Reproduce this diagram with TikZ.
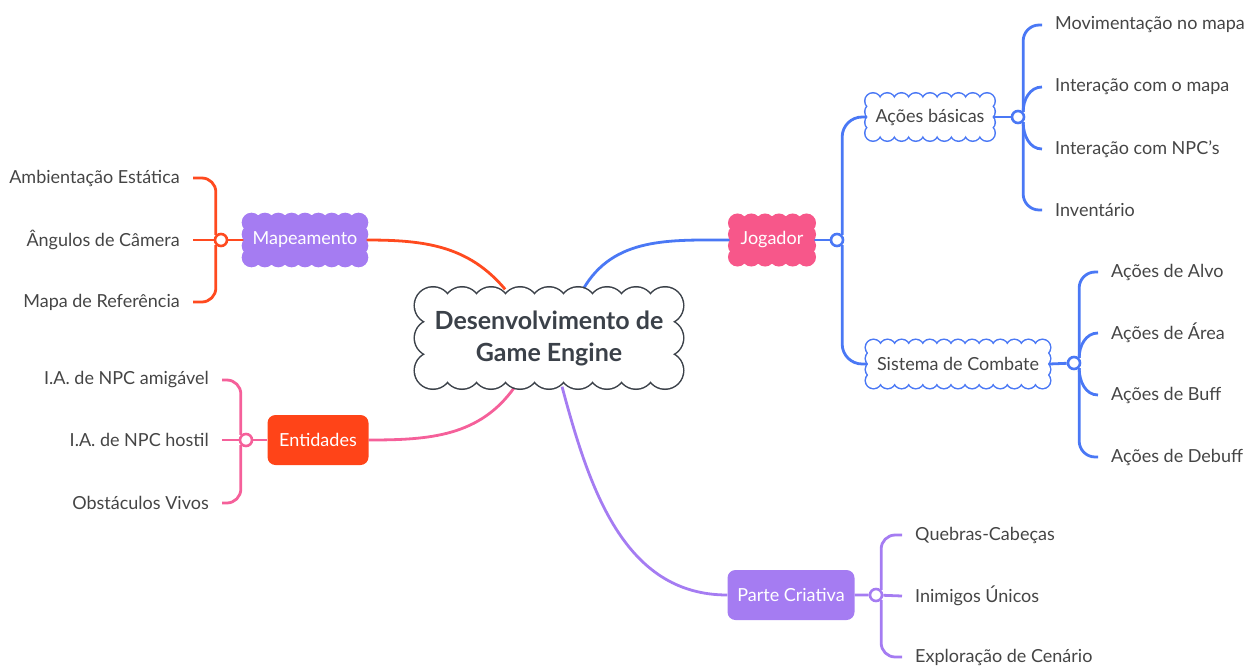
\documentclass[tikz,border=0pt]{standalone}
\usepackage{fontspec}
\setmainfont{Lato}

\definecolor{mapred}{HTML}{FF4A1F}
\definecolor{entred}{HTML}{FF4418}
\definecolor{entpink}{HTML}{F5609A}
\definecolor{jogpink}{HTML}{F7578A}
\definecolor{jogblue}{HTML}{4A78F5}
\definecolor{crpurple}{HTML}{A57CF2}
\definecolor{txtgray}{HTML}{454545}
\definecolor{coregray}{HTML}{3B4149}

\pgfdeclarelayer{links}
\pgfdeclarelayer{clouds}
\pgfsetlayers{links,clouds,main}

\tikzset{
  topic/.style={font=\fontsize{18}{21}\selectfont,text=white,inner sep=0pt},
  leaf/.style={font=\fontsize{18}{21}\selectfont,text=txtgray,inner ysep=0pt,inner xsep=13pt},
  knot/.style={circle,draw=#1,fill=white,line width=2.6pt,minimum size=12pt,inner sep=0pt},
  br/.style={draw=#1,line width=2.8pt},
}

% puffs round a node: #1 node, #2 half width, #3 half height,
% #4 puffs across, #5 puffs down, #6 puff radius, #7 fill, #8 outline
\newcommand{\puffcloud}[8]{%
  \begin{pgfonlayer}{clouds}
  \begin{scope}[shift={(#1.center)}]
    \path[draw=#8,line width=3pt]
      \foreach \i in {0,...,#4} {(-#2+\i*2*#2/#4,#3) circle[radius=#6] (-#2+\i*2*#2/#4,-#3) circle[radius=#6]}
      \foreach \j in {1,...,\numexpr#5-1\relax} {(-#2,-#3+\j*2*#3/#5) circle[radius=#6] (#2,-#3+\j*2*#3/#5) circle[radius=#6]};
    \path[fill=#7]
      \foreach \i in {0,...,#4} {(-#2+\i*2*#2/#4,#3) circle[radius=#6] (-#2+\i*2*#2/#4,-#3) circle[radius=#6]}
      \foreach \j in {1,...,\numexpr#5-1\relax} {(-#2,-#3+\j*2*#3/#5) circle[radius=#6] (#2,-#3+\j*2*#3/#5) circle[radius=#6]};
    \fill[#7] (-#2,-#3) rectangle (#2,#3);
  \end{scope}
  \end{pgfonlayer}}

\begin{document}
\begin{tikzpicture}[x=1pt,y=1pt]
\useasboundingbox (0,0) rectangle (1248,-667);

% central topic
\node[inner sep=0pt,minimum width=264,minimum height=97,align=center,text=coregray,
      font=\bfseries\fontsize{25}{32}\selectfont] (core) at (549,-338)
  {Desenvolvimento de\\Game Engine};
\puffcloud{core}{116}{32.5}{8}{2}{18}{white}{coregray}

% Mapeamento
\node[topic,minimum width=122,minimum height=50] (map) at (305,-240) {Mapeamento};
\puffcloud{map}{53.5}{17.5}{8}{3}{8.3}{crpurple}{crpurple}
\node[knot=mapred] (mdot) at (221,-240) {};
\node[leaf,anchor=east] (mleaf1) at (193,-178) {Ambientação Estática};
\node[leaf,anchor=east] (mleaf2) at (193,-240) {Ângulos de Câmera};
\node[leaf,anchor=east] (mleaf3) at (193,-302) {Mapa de Referência};

% Entidades
\node[topic,fill=entred,rounded corners=8pt,minimum width=101,minimum height=50] (ent) at (318,-440) {Entidades};
\node[knot=entpink] (edot) at (246,-440) {};
\node[leaf,anchor=east] (eleaf1) at (222,-380) {I.A. de NPC amigável};
\node[leaf,anchor=east] (eleaf2) at (222,-440) {I.A. de NPC hostil};
\node[leaf,anchor=east] (eleaf3) at (222,-503) {Obstáculos Vivos};

% Jogador
\node[topic,minimum width=83,minimum height=48] (jog) at (772,-240) {Jogador};
\puffcloud{jog}{34.5}{17}{5}{3}{8}{jogpink}{jogpink}
\node[knot=jogblue] (jdot) at (837,-240) {};

\node[topic,text=txtgray,minimum width=127,minimum height=45] (acoes) at (930,-117) {Ações básicas};
\puffcloud{acoes}{57}{16}{8}{3}{7.5}{white}{jogblue}
\node[knot=jogblue] (adot) at (1018,-117) {};
\node[leaf,anchor=west] (aleaf1) at (1042,-25) {Movimentação no mapa};
\node[leaf,anchor=west] (aleaf2) at (1042,-87) {Interação com o mapa};
\node[leaf,anchor=west] (aleaf3) at (1042,-149) {Interação com NPC's};
\node[leaf,anchor=west] (aleaf4) at (1042,-210) {Inventário};

\node[topic,text=txtgray,minimum width=182,minimum height=46] (sist) at (958,-364) {Sistema de Combate};
\puffcloud{sist}{84.5}{16.5}{12}{3}{7.5}{white}{jogblue}
\node[knot=jogblue] (sdot) at (1074,-363) {};
\node[leaf,anchor=west] (sleaf1) at (1098,-272) {Ações de Alvo};
\node[leaf,anchor=west] (sleaf2) at (1098,-333) {Ações de Área};
\node[leaf,anchor=west] (sleaf3) at (1098,-395) {Ações de Buff};
\node[leaf,anchor=west] (sleaf4) at (1098,-457) {Ações de Debuff};

% Parte Criativa
\node[topic,fill=crpurple,rounded corners=8pt,minimum width=127,minimum height=50] (parte) at (791,-595) {Parte Criativa};
\node[knot=crpurple] (pdot) at (876,-595) {};
\node[leaf,anchor=west] (pleaf1) at (902,-535) {Quebras-Cabeças};
\node[leaf,anchor=west] (pleaf2) at (902,-596) {Inimigos Únicos};
\node[leaf,anchor=west] (pleaf3) at (902,-657) {Exploração de Cenário};

\begin{pgfonlayer}{links}
% main branches
\draw[br=mapred] (map.east) to[out=0,in=130] (core.132);
\draw[br=entpink] (ent.east) to[out=0,in=235] (core.235);
\draw[br=jogblue] (core.55) to[out=60,in=180] (jog.west);
\draw[br=crpurple] (core.285) to[out=-75,in=180] (parte.west);

% Mapeamento
\draw[br=mapred] (map.west) -- (mdot) -- (mleaf2.east);
\draw[br=mapred,rounded corners=14pt] (mdot.north west) |- (mleaf1.east);
\draw[br=mapred,rounded corners=14pt] (mdot.south west) |- (mleaf3.east);

% Entidades
\draw[br=entpink] (ent.west) -- (edot) -- (eleaf2.east);
\draw[br=entpink,rounded corners=14pt] (edot.north west) |- (eleaf1.east);
\draw[br=entpink,rounded corners=14pt] (edot.south west) |- (eleaf3.east);

% Jogador
\draw[br=jogblue] (jog.east) -- (jdot);
\draw[br=jogblue,rounded corners=20pt] (jdot.north east) |- (acoes.west);
\draw[br=jogblue,rounded corners=20pt] (jdot.south east) |- (sist.west);

\draw[br=jogblue] (acoes.east) -- (adot);
\draw[br=jogblue,rounded corners=16pt] (adot.north east) |- (aleaf1.west);
\draw[br=jogblue] (adot.north east) to[out=90,in=180] (aleaf2.west);
\draw[br=jogblue] (adot.south east) to[out=-90,in=180] (aleaf3.west);
\draw[br=jogblue,rounded corners=16pt] (adot.south east) |- (aleaf4.west);

\draw[br=jogblue] (sist.east) -- (sdot);
\draw[br=jogblue,rounded corners=16pt] (sdot.north east) |- (sleaf1.west);
\draw[br=jogblue] (sdot.north east) to[out=90,in=180] (sleaf2.west);
\draw[br=jogblue] (sdot.south east) to[out=-90,in=180] (sleaf3.west);
\draw[br=jogblue,rounded corners=16pt] (sdot.south east) |- (sleaf4.west);

% Parte Criativa
\draw[br=crpurple] (parte.east) -- (pdot) -- (pleaf2.west);
\draw[br=crpurple,rounded corners=14pt] (pdot.north east) |- (pleaf1.west);
\draw[br=crpurple,rounded corners=14pt] (pdot.south east) |- (pleaf3.west);
\end{pgfonlayer}
\end{tikzpicture}
\end{document}
